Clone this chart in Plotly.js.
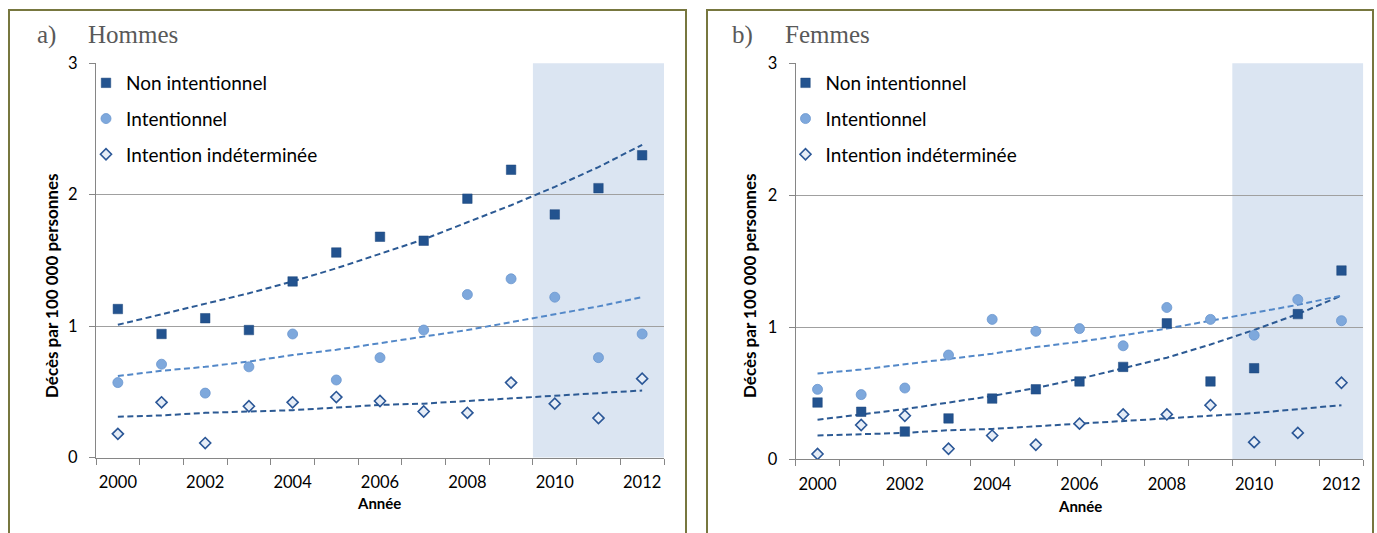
<!DOCTYPE html>
<html>
<head>
<meta charset="utf-8">
<script src="https://cdn.plot.ly/plotly-3.0.1.min.js"></script>
<style>
html,body{margin:0;padding:0;background:#fff;}
#chart{width:1377px;height:533px;}
</style>
</head>
<body>
<div id="chart"></div>
<script>
// ---------- data ----------
const years = [2000, 2001, 2002, 2003, 2004, 2005, 2006, 2007, 2008, 2009, 2010, 2011, 2012];
const yearTicks = [2000, 2002, 2004, 2006, 2008, 2010, 2012];
const seriesNames = ["Non intentionnel", "Intentionnel", "Intention indéterminée"];
const panelLabels = ["a)", "b)"];
const panelTitles = ["Hommes", "Femmes"];
const yTitle = "Décès par 100 000 personnes";
const xTitle = "Année";

// a) Hommes
const hommesNonInt = [1.13, 0.94, 1.06, 0.97, 1.34, 1.56, 1.68, 1.65, 1.97, 2.19, 1.85, 2.05, 2.30];
const hommesInt = [0.57, 0.71, 0.49, 0.69, 0.94, 0.59, 0.76, 0.97, 1.24, 1.36, 1.22, 0.76, 0.94];
const hommesIndet = [0.18, 0.42, 0.11, 0.39, 0.42, 0.46, 0.43, 0.35, 0.34, 0.57, 0.41, 0.30, 0.60];
const hommesNonIntTrend = [1.01, 1.09, 1.17, 1.25, 1.34, 1.44, 1.55, 1.66, 1.79, 1.92, 2.06, 2.21, 2.38];
const hommesIntTrend = [0.62, 0.66, 0.69, 0.73, 0.78, 0.82, 0.87, 0.92, 0.97, 1.03, 1.09, 1.15, 1.22];
const hommesIndetTrend = [0.31, 0.32, 0.34, 0.35, 0.36, 0.38, 0.40, 0.41, 0.43, 0.45, 0.47, 0.49, 0.51];

// b) Femmes
const femmesNonInt = [0.43, 0.36, 0.21, 0.31, 0.46, 0.53, 0.59, 0.70, 1.03, 0.59, 0.69, 1.10, 1.43];
const femmesInt = [0.53, 0.49, 0.54, 0.79, 1.06, 0.97, 0.99, 0.86, 1.15, 1.06, 0.94, 1.21, 1.05];
const femmesIndet = [0.04, 0.26, 0.33, 0.08, 0.18, 0.11, 0.27, 0.34, 0.34, 0.41, 0.13, 0.20, 0.58];
const femmesNonIntTrend = [0.30, 0.34, 0.38, 0.43, 0.48, 0.54, 0.61, 0.69, 0.77, 0.87, 0.98, 1.10, 1.24];
const femmesIntTrend = [0.65, 0.68, 0.72, 0.76, 0.80, 0.85, 0.89, 0.94, 0.99, 1.05, 1.11, 1.17, 1.24];
const femmesIndetTrend = [0.18, 0.19, 0.20, 0.22, 0.23, 0.25, 0.27, 0.29, 0.31, 0.33, 0.35, 0.38, 0.41];

// shaded period (years)
const shadeStart = 2010;
const shadeEnd = 2012;

// ---------- styles ----------
const W = 1377, H = 533;
const DARK = "#23538f";
const LIGHT = "#7ea8dc";
const TREND_DARK = "#2c5a94";
const TREND_LIGHT = "#5388c8";
const px = v => v / W;
const py = v => (H - v) / H;

function panelTraces(nonInt, intent, indet, tNon, tInt, tInd, xa, ya, legendId) {
  return [
    {x: years, y: tNon, xaxis: xa, yaxis: ya, mode: "lines", showlegend: false, hoverinfo: "skip",
     line: {color: TREND_DARK, width: 2, dash: "6px,3.5px"}},
    {x: years, y: tInt, xaxis: xa, yaxis: ya, mode: "lines", showlegend: false, hoverinfo: "skip",
     line: {color: TREND_LIGHT, width: 2, dash: "6px,3.5px"}},
    {x: years, y: tInd, xaxis: xa, yaxis: ya, mode: "lines", showlegend: false, hoverinfo: "skip",
     line: {color: TREND_DARK, width: 2, dash: "6px,3.5px"}},
    {x: years, y: nonInt, xaxis: xa, yaxis: ya, mode: "markers", name: seriesNames[0], legend: legendId, legendgroup: "a",
     marker: {symbol: "square", size: 9.5, color: DARK, line: {color: "#1d477c", width: 0.5}}},
    {x: years, y: intent, xaxis: xa, yaxis: ya, mode: "markers", name: seriesNames[1], legend: legendId, legendgroup: "b",
     marker: {symbol: "circle", size: 10, color: LIGHT, line: {color: "#6b97cf", width: 0.8}}},
    {x: years, y: indet, xaxis: xa, yaxis: ya, mode: "markers", name: seriesNames[2], legend: legendId, legendgroup: "c",
     marker: {symbol: "diamond", size: 8.5, color: "#e6edf7", line: {color: "#2b5797", width: 1.6}}}
  ];
}

const data = [
  ...panelTraces(hommesNonInt, hommesInt, hommesIndet, hommesNonIntTrend, hommesIntTrend, hommesIndetTrend, "x", "y", "legend"),
  ...panelTraces(femmesNonInt, femmesInt, femmesIndet, femmesNonIntTrend, femmesIntTrend, femmesIndetTrend, "x2", "y2", "legend2")
];

function xAxis(domain, anchor) {
  return {
    domain: domain, anchor: anchor, range: [years[0] - 0.5, years[years.length - 1] + 0.5],
    tickvals: yearTicks, ticktext: yearTicks.map(String), ticks: "", ticklabelstandoff: 10,
    tickfont: {family: "Lato", size: 16.5, color: "#000"},
    showgrid: false, zeroline: false, showline: true, linecolor: "#868686", linewidth: 1,
    minor: {tick0: years[0] - 0.5, dtick: 1, ticks: "outside", ticklen: 6, tickcolor: "#868686", showgrid: false},
    fixedrange: true
  };
}
function yAxis(domain, anchor) {
  return {
    domain: domain, anchor: anchor, range: [0, 3], tickvals: [0, 1, 2, 3],
    ticks: "outside", ticklen: 6, tickcolor: "#868686", ticklabelstandoff: 8,
    tickfont: {family: "Lato", size: 16.5, color: "#000"},
    showgrid: true, gridcolor: "#a0a0a0", gridwidth: 1,
    zeroline: false, showline: true, linecolor: "#868686", linewidth: 1, fixedrange: true
  };
}

const titleFont = {family: "Liberation Serif", size: 25, color: "#595959"};
const axisTitleFont = {family: "Lato", size: 17, color: "#000", weight: "bold"};

const layout = {
  width: W, height: H,
  margin: {l: 0, r: 0, t: 0, b: 0},
  paper_bgcolor: "#fff", plot_bgcolor: "rgba(0,0,0,0)",
  showlegend: true,
  xaxis: xAxis([px(96), px(664)], "y"),
  yaxis: yAxis([py(457.5), py(63.3)], "x"),
  xaxis2: xAxis([px(795.7), px(1363.3)], "y2"),
  yaxis2: yAxis([py(459.3), py(63.3)], "x2"),
  legend: {x: px(86), y: py(64), xanchor: "left", yanchor: "top", bgcolor: "rgba(0,0,0,0)",
           font: {family: "Lato", size: 19, color: "#000"}, tracegroupgap: 8, itemwidth: 30},
  legend2: {x: px(785.5), y: py(64), xanchor: "left", yanchor: "top", bgcolor: "rgba(0,0,0,0)",
           font: {family: "Lato", size: 19, color: "#000"}, tracegroupgap: 8, itemwidth: 30},
  shapes: [
    {type: "rect", xref: "x", yref: "y domain", x0: shadeStart - 0.5, x1: shadeEnd + 0.5, y0: 0, y1: 1,
     fillcolor: "#dbe5f2", line: {width: 0}, layer: "below"},
    {type: "rect", xref: "x2", yref: "y2 domain", x0: shadeStart - 0.5, x1: shadeEnd + 0.5, y0: 0, y1: 1,
     fillcolor: "#dbe5f2", line: {width: 0}, layer: "below"},
    {type: "rect", xref: "paper", yref: "paper", x0: px(9), x1: px(686), y0: py(560), y1: py(10),
     line: {color: "#77773f", width: 2}, fillcolor: "rgba(0,0,0,0)", layer: "above"},
    {type: "rect", xref: "paper", yref: "paper", x0: px(707), x1: px(1373), y0: py(560), y1: py(10),
     line: {color: "#77773f", width: 2}, fillcolor: "rgba(0,0,0,0)", layer: "above"}
  ],
  annotations: [
    {text: panelLabels[0], xref: "paper", yref: "paper", x: px(35), y: py(35), xanchor: "left", yanchor: "middle", showarrow: false, font: titleFont},
    {text: panelTitles[0], xref: "paper", yref: "paper", x: px(86), y: py(35), xanchor: "left", yanchor: "middle", showarrow: false, font: titleFont},
    {text: panelLabels[1], xref: "paper", yref: "paper", x: px(730), y: py(35), xanchor: "left", yanchor: "middle", showarrow: false, font: titleFont},
    {text: panelTitles[1], xref: "paper", yref: "paper", x: px(783), y: py(35), xanchor: "left", yanchor: "middle", showarrow: false, font: titleFont},
    {text: yTitle, xref: "paper", yref: "paper", x: px(51), y: py(286), xanchor: "center", yanchor: "middle", textangle: -90, showarrow: false, font: axisTitleFont},
    {text: yTitle, xref: "paper", yref: "paper", x: px(749), y: py(286), xanchor: "center", yanchor: "middle", textangle: -90, showarrow: false, font: axisTitleFont},
    {text: xTitle, xref: "paper", yref: "paper", x: px(379), y: py(503), xanchor: "center", yanchor: "middle", showarrow: false, font: {family: "Lato", size: 15, color: "#000", weight: "bold"}},
    {text: xTitle, xref: "paper", yref: "paper", x: px(1080), y: py(506), xanchor: "center", yanchor: "middle", showarrow: false, font: {family: "Lato", size: 15, color: "#000", weight: "bold"}}
  ]
};

Plotly.newPlot("chart", data, layout, {displayModeBar: false, staticPlot: true});
</script>
</body>
</html>
